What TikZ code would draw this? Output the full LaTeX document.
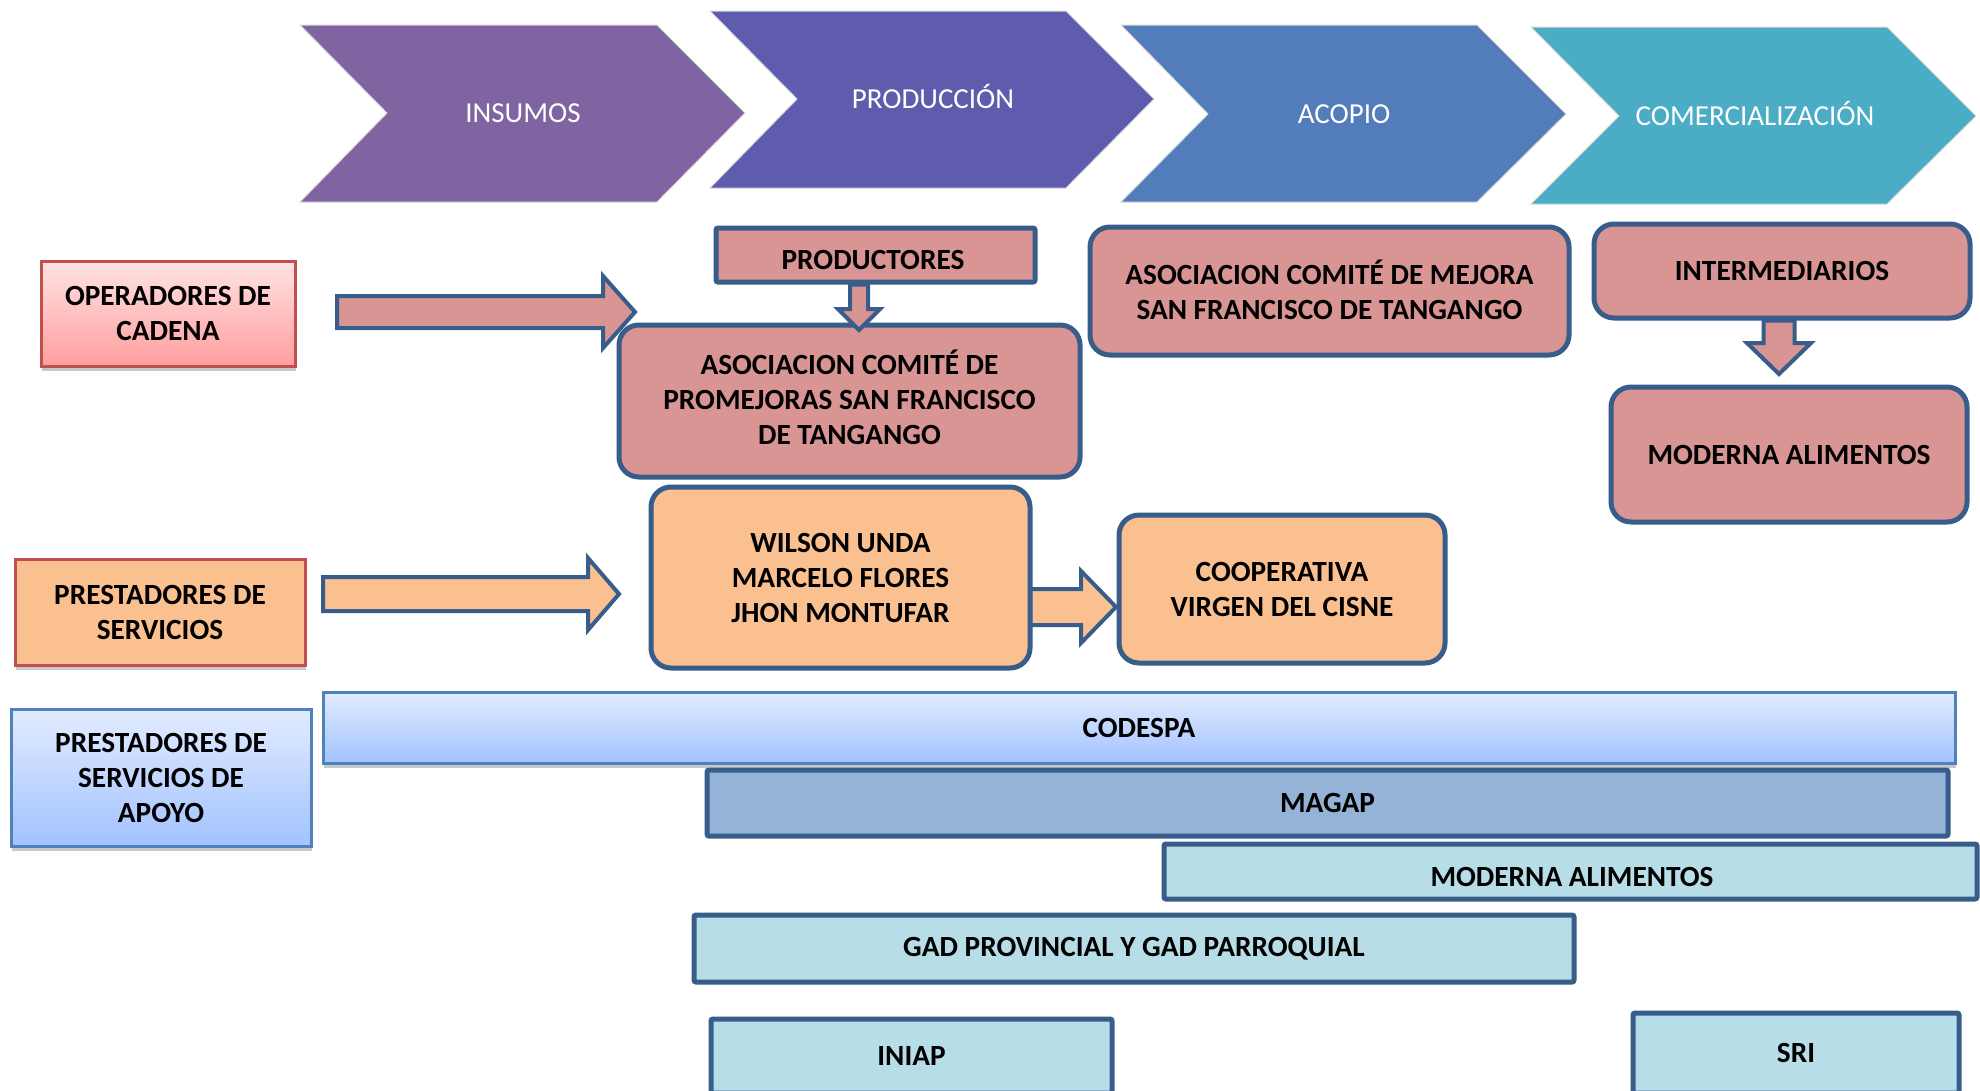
\documentclass[tikz,border=0pt]{standalone}
\usepackage{fontspec}
\setmainfont{Carlito}
\usetikzlibrary{calc,shadows}
\definecolor{insc}{HTML}{8064A2}
\definecolor{prodc}{HTML}{5F5CAD}
\definecolor{acoc}{HTML}{537CBA}
\definecolor{comc}{HTML}{4BACC6}
\definecolor{pinkf}{HTML}{D99594}
\definecolor{bordb}{HTML}{385D8A}
\definecolor{orangef}{HTML}{FAC090}
\definecolor{redb}{HTML}{C0504D}
\definecolor{magapf}{HTML}{95B3D7}
\definecolor{lbluef}{HTML}{B7DEE8}
\definecolor{apoyob}{HTML}{4F81BD}
\definecolor{operT}{HTML}{FFE3E3}
\definecolor{operB}{HTML}{FF9E9E}
\definecolor{apoyoT}{HTML}{E2ECFF}
\definecolor{apoyoB}{HTML}{A2C2FF}
\tikzset{
  chev/.style={draw=white!85!black, line width=1pt},
  chevtext/.style={text=white, font=\fontsize{29}{35}\selectfont, inner sep=0pt, anchor=base},
  boxtext/.style={font=\bfseries\fontsize{29.3}{35}\selectfont, align=center, inner sep=0pt},
  pinkbox/.style={draw=bordb, fill=pinkf, line width=5pt, rounded corners=20pt, boxtext},
  orangebox/.style={draw=bordb, fill=orangef, line width=5pt, rounded corners=20pt, boxtext},
  sqbox/.style={draw=bordb, line width=5pt, rounded corners=2pt, boxtext},
  barrow/.style={draw=bordb, line width=4pt, line join=miter},
  labbox/.style={line width=3pt, boxtext, drop shadow={shadow xshift=1pt, shadow yshift=-5pt, opacity=0.3, fill=black!70}},
}
% right-pointing block arrow: start, tip, half body, half head, head length, fill
\newcommand{\blkRight}[6]{\draw[barrow, fill=#6] ($(#1)+(0,-#3)$) -- ($(#2)+(-#5,-#3)$) -- ($(#2)+(-#5,-#4)$) -- (#2) -- ($(#2)+(-#5,#4)$) -- ($(#2)+(-#5,#3)$) -- ($(#1)+(0,#3)$) -- cycle;}
% down-pointing block arrow
\newcommand{\blkDown}[6]{\draw[barrow, fill=#6] ($(#1)+(-#3,0)$) -- ($(#2)+(-#3,-#5)$) -- ($(#2)+(-#4,-#5)$) -- (#2) -- ($(#2)+(#4,-#5)$) -- ($(#2)+(#3,-#5)$) -- ($(#1)+(#3,0)$) -- cycle;}
\begin{document}
\begin{tikzpicture}[x=1pt, y=-1pt]
\useasboundingbox (0,0) rectangle (1980,1090);
\clip (0,0) rectangle (1980,1090);
\fill[white] (0,0) rectangle (1980,1090);
% chevrons
\filldraw[chev, fill=insc] (300,25) -- (657,25) -- (745,113) -- (657,202) -- (300,202) -- (387,113) -- cycle;
\filldraw[chev, fill=prodc] (710,11) -- (1066,11) -- (1154,99) -- (1066,188) -- (710,188) -- (797,99) -- cycle;
\filldraw[chev, fill=acoc] (1121,25) -- (1477,25) -- (1566,114) -- (1477,202) -- (1121,202) -- (1208,114) -- cycle;
\filldraw[chev, fill=comc] (1531,27) -- (1887,27) -- (1976,116) -- (1887,204) -- (1531,204) -- (1619,116) -- cycle;
\node[chevtext] (tins) at (523,122.5) {INSUMOS};
\node[chevtext] (tpro) at (933,108.5) {PRODUCCIÓN};
\node[chevtext] (taco) at (1344,123.5) {ACOPIO};
\node[chevtext] (tcom) at (1755,125.5) {COMERCIALIZACIÓN};
% left labels
\node[labbox, draw=redb, top color=operT, bottom color=operB, minimum width=254, minimum height=105] (oper) at (168,313.5) {OPERADORES DE\\CADENA};
\node[labbox, draw=redb, fill=orangef, minimum width=290, minimum height=106] (prest) at (160,612) {PRESTADORES DE\\SERVICIOS};
\node[labbox, draw=apoyob, top color=apoyoT, bottom color=apoyoB, minimum width=300, minimum height=137] (apoyo) at (161,777.5) {PRESTADORES DE\\SERVICIOS DE\\APOYO};
% operators
\node[sqbox, fill=pinkf, minimum width=319, minimum height=54] (prod) at (875.5,255) {};
\node[boxtext] (prodT) at (873,260) {PRODUCTORES};
\node[pinkbox, minimum width=461, minimum height=152] (asoc1) at (849.5,401) {};
\node[boxtext] (asoc1T) at (849.5,397) {ASOCIACION COMITÉ DE\\PROMEJORAS SAN FRANCISCO\\DE TANGANGO};
\node[pinkbox, minimum width=479, minimum height=128] (asoc2) at (1329.5,291) {};
\node[boxtext] (asoc2T) at (1329.5,289.5) {ASOCIACION COMITÉ DE MEJORA\\SAN FRANCISCO DE TANGANGO};
\node[pinkbox, minimum width=376, minimum height=94] (inter) at (1782,271) {INTERMEDIARIOS};
\node[pinkbox, minimum width=356, minimum height=135] (modp) at (1789,454.5) {MODERNA ALIMENTOS};
% service providers
\coordinate (a3t) at (1116,607);
\coordinate (a3s) at (1030,607);
\blkRight{a3s}{a3t}{18}{36}{35}{orangef}
\node[orangebox, minimum width=379, minimum height=181] (wilson) at (840.5,577.5) {WILSON UNDA\\MARCELO FLORES\\JHON MONTUFAR};
\node[orangebox, minimum width=326, minimum height=148] (coop) at (1282,589) {COOPERATIVA\\VIRGEN DEL CISNE};
% support bars
\node[labbox, draw=apoyob, top color=apoyoT, bottom color=apoyoB, minimum width=1632, minimum height=71] (codespa) at (1139,727.5) {CODESPA};
\node[sqbox, fill=magapf, minimum width=1241, minimum height=66] (magap) at (1327.5,803) {MAGAP};
\node[sqbox, fill=lbluef, minimum width=813, minimum height=55] (modbar) at (1570.5,871.5) {};
\node[boxtext] (modbarT) at (1572,877) {MODERNA ALIMENTOS};
\node[sqbox, fill=lbluef, minimum width=880, minimum height=67] (gad) at (1134,948.5) {GAD PROVINCIAL Y GAD PARROQUIAL};
\node[sqbox, fill=lbluef, minimum width=401, minimum height=74] (iniap) at (911.5,1056) {INIAP};
\node[sqbox, fill=lbluef, minimum width=326, minimum height=80] (sri) at (1796,1053) {SRI};
% arrows
\coordinate (a1s) at (337,312);
\coordinate (a1t) at (635,312);
\blkRight{a1s}{a1t}{16}{36}{32}{pinkf}
\coordinate (a2s) at (323,594);
\coordinate (a2t) at (619,594);
\blkRight{a2s}{a2t}{17}{36}{31}{orangef}
\coordinate (a4t) at (859,330);
\coordinate (a4s) at (prod.south -| a4t);
\blkDown{a4s}{a4t}{9}{21}{21}{pinkf}
\coordinate (a5t) at (1779,374);
\coordinate (a5s) at (inter.south -| a5t);
\blkDown{a5s}{a5t}{15.5}{32}{31}{pinkf}
\end{tikzpicture}
\end{document}
